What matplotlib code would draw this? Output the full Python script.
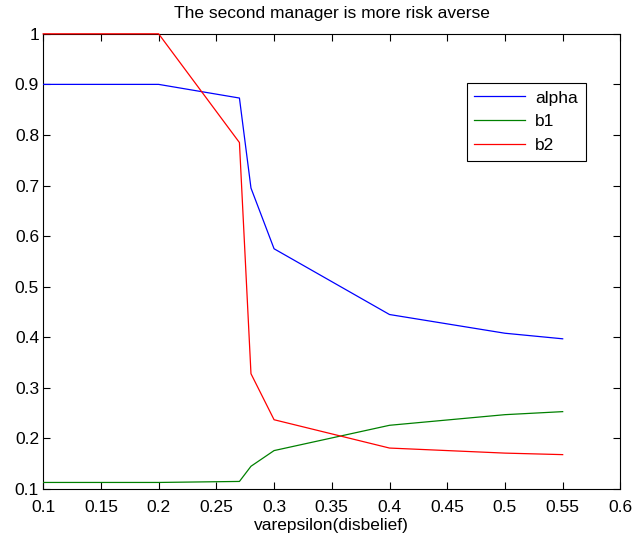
import matplotlib
matplotlib.use('Agg')
import matplotlib.pyplot as plt

plt.rcParams['font.family'] = ['Liberation Sans', 'DejaVu Sans']

# values
eps = [0.1, 0.2, 0.27, 0.28, 0.3, 0.4, 0.5, 0.55]
alpha = [0.9, 0.9, 0.873, 0.695, 0.575, 0.445, 0.408, 0.397]
b1 = [0.113, 0.113, 0.115, 0.145, 0.176, 0.226, 0.247, 0.253]
b2 = [1.0, 1.0, 0.785, 0.328, 0.237, 0.181, 0.171, 0.168]

xticks = [0.1, 0.15, 0.2, 0.25, 0.3, 0.35, 0.4, 0.45, 0.5, 0.55, 0.6]
yticks = [0.1, 0.2, 0.3, 0.4, 0.5, 0.6, 0.7, 0.8, 0.9, 1.0]

fs = 12.5

fig = plt.figure(figsize=(6.35, 5.4), dpi=100)
ax = fig.add_axes([0.068, 0.0944, 0.909, 0.843])

ax.plot(eps, alpha, color='blue', lw=0.9, label='alpha', zorder=3)
ax.plot(eps, b1, color='green', lw=0.9, label='b1', zorder=3)
ax.plot(eps, b2, color='red', lw=0.9, label='b2', zorder=3, clip_on=False)

ax.set_xlim(0.1, 0.6)
ax.set_ylim(0.1, 1.0)
ax.set_xticks(xticks)
ax.set_xticklabels(['0.1', '0.15', '0.2', '0.25', '0.3', '0.35', '0.4', '0.45', '0.5', '0.55', '0.6'])
ax.set_yticks(yticks)
ax.set_yticklabels(['0.1', '0.2', '0.3', '0.4', '0.5', '0.6', '0.7', '0.8', '0.9', '1'])
ax.tick_params(direction='in', top=True, right=True, labelsize=fs, length=5)
ax.tick_params(axis='x', pad=8)
ax.tick_params(axis='y', pad=3)
for s in ax.spines.values():
    s.set_linewidth(0.8)
    s.set_zorder(2)

ax.set_xlabel('varepsilon(disbelief)', fontsize=fs, labelpad=2)
ax.set_title('The second manager is more risk averse', fontsize=fs, pad=11.5)

leg = ax.legend(loc='upper right', bbox_to_anchor=(0.955, 0.912), fontsize=fs,
                fancybox=False, framealpha=1, edgecolor='black',
                handlelength=2.9, handletextpad=0.6, borderpad=0.45,
                labelspacing=0.5, borderaxespad=0.5)
leg.get_frame().set_linewidth(0.8)

fig.savefig('out.png', dpi=100)
